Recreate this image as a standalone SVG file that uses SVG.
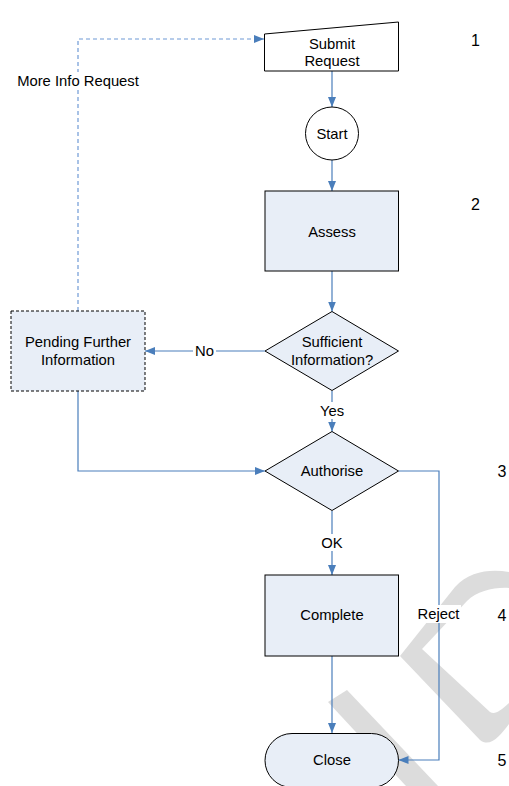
<svg xmlns="http://www.w3.org/2000/svg" width="509" height="786" viewBox="0 0 509 786">
  <defs>
    <marker id="arrow" markerWidth="10" markerHeight="8" refX="10" refY="4" orient="auto" markerUnits="userSpaceOnUse">
      <path d="M0,0 L10,4 L0,8 Z" fill="#4a7ebb"/>
    </marker>
  </defs>
  <style>
    text { font-family: "Liberation Sans", Arial, sans-serif; font-size: 14.8px; fill: #000; text-anchor: middle; }
    .num { font-size: 16px; }
    .node { fill: #e8eef7; stroke: #000; stroke-width: 1; }
    .plain { fill: #fff; stroke: #000; stroke-width: 1; }
    .dashbox { fill: #e8eef7; stroke: #000; stroke-width: 1; stroke-dasharray: 3 2; }
    .conn { fill: none; stroke: #4a7ebb; stroke-width: 1.2; }
    .dashed { fill: none; stroke: #6f9ad6; stroke-width: 1.2; stroke-dasharray: 4 3; }
    .labelbg { fill: #fff; }
    .mark { fill: #dcdcdc; stroke: none; }
  </style>

  <rect width="509" height="786" fill="#fff"/>

  <!-- faint background watermark -->
  <g id="watermark">
    <path class="mark" d="M509,572 C490,569 470,571 455,587 L400,656 L480,740 C490,748 500,736 509,724 L509,703 C500,711 495,715 490,712 L422,649 L467,601 C477,591 495,587 509,588 Z"/>
    <path class="mark" d="M328,702 L347,690 L438,786 L406,786 Z"/>
  </g>

  <!-- connectors -->
  <g id="connectors">
    <path class="conn" d="M332,71 V107" marker-end="url(#arrow)"/>
    <path class="conn" d="M332,160 V191" marker-end="url(#arrow)"/>
    <path class="conn" d="M332,271 V311.5" marker-end="url(#arrow)"/>
    <path class="conn" d="M265,351 H145" marker-end="url(#arrow)"/>
    <path class="conn" d="M332,391 V431.5" marker-end="url(#arrow)"/>
    <path class="conn" d="M78,391 V471 H265" marker-end="url(#arrow)"/>
    <path class="dashed" d="M78,311 V39 H264" marker-end="url(#arrow)"/>
    <path class="conn" d="M398.5,471 H439 V760 H398.5" marker-end="url(#arrow)"/>
    <path class="conn" d="M332,511 V575" marker-end="url(#arrow)"/>
    <path class="conn" d="M332,656 V733" marker-end="url(#arrow)"/>

    <!-- connector labels -->
    <rect class="labelbg" x="15" y="72" width="126" height="17"/>
    <text x="78" y="86">More Info Request</text>
    <rect class="labelbg" x="193" y="343" width="23" height="16"/>
    <text x="204.5" y="356">No</text>
    <rect class="labelbg" x="317" y="402" width="30" height="17"/>
    <text x="332" y="416">Yes</text>
    <rect class="labelbg" x="320" y="534" width="24" height="17"/>
    <text x="332" y="548">OK</text>
    <rect class="labelbg" x="416" y="605" width="45" height="18"/>
    <text x="438.5" y="619">Reject</text>
  </g>

  <!-- nodes -->
  <g id="submit-request">
    <path class="plain" d="M264.5,34 L398.5,22 V71 H264.5 Z"/>
    <text x="332" y="48.5">Submit</text>
    <text x="332" y="65.5">Request</text>
  </g>
  <g id="start">
    <circle class="plain" cx="332" cy="133.5" r="26.5"/>
    <text x="332" y="138.5">Start</text>
  </g>
  <g id="assess">
    <rect class="node" x="265" y="191" width="133.5" height="80"/>
    <text x="332" y="236.5">Assess</text>
  </g>
  <g id="sufficient-information">
    <path class="node" d="M332,311.5 L398.5,351 L332,390.5 L265,351 Z"/>
    <text x="332" y="347">Sufficient</text>
    <text x="332" y="365">Information?</text>
  </g>
  <g id="pending-further-information">
    <rect class="dashbox" x="11" y="311" width="134" height="80"/>
    <text x="78" y="347">Pending Further</text>
    <text x="78" y="365">Information</text>
  </g>
  <g id="authorise">
    <path class="node" d="M332,431.5 L398.5,471 L332,510.5 L265,471 Z"/>
    <text x="332" y="476">Authorise</text>
  </g>
  <g id="complete">
    <rect class="node" x="265" y="575" width="133.5" height="81"/>
    <text x="332" y="620">Complete</text>
  </g>
  <g id="close">
    <rect class="node" x="265" y="733.5" width="133.5" height="54" rx="27" ry="27"/>
    <text x="332" y="765">Close</text>
  </g>

  <!-- step numbers -->
  <g id="step-numbers">
    <text class="num" x="475.5" y="46">1</text>
    <text class="num" x="475.5" y="210">2</text>
    <text class="num" x="502" y="477">3</text>
    <text class="num" x="502" y="621">4</text>
    <text class="num" x="502" y="766">5</text>
  </g>
</svg>
